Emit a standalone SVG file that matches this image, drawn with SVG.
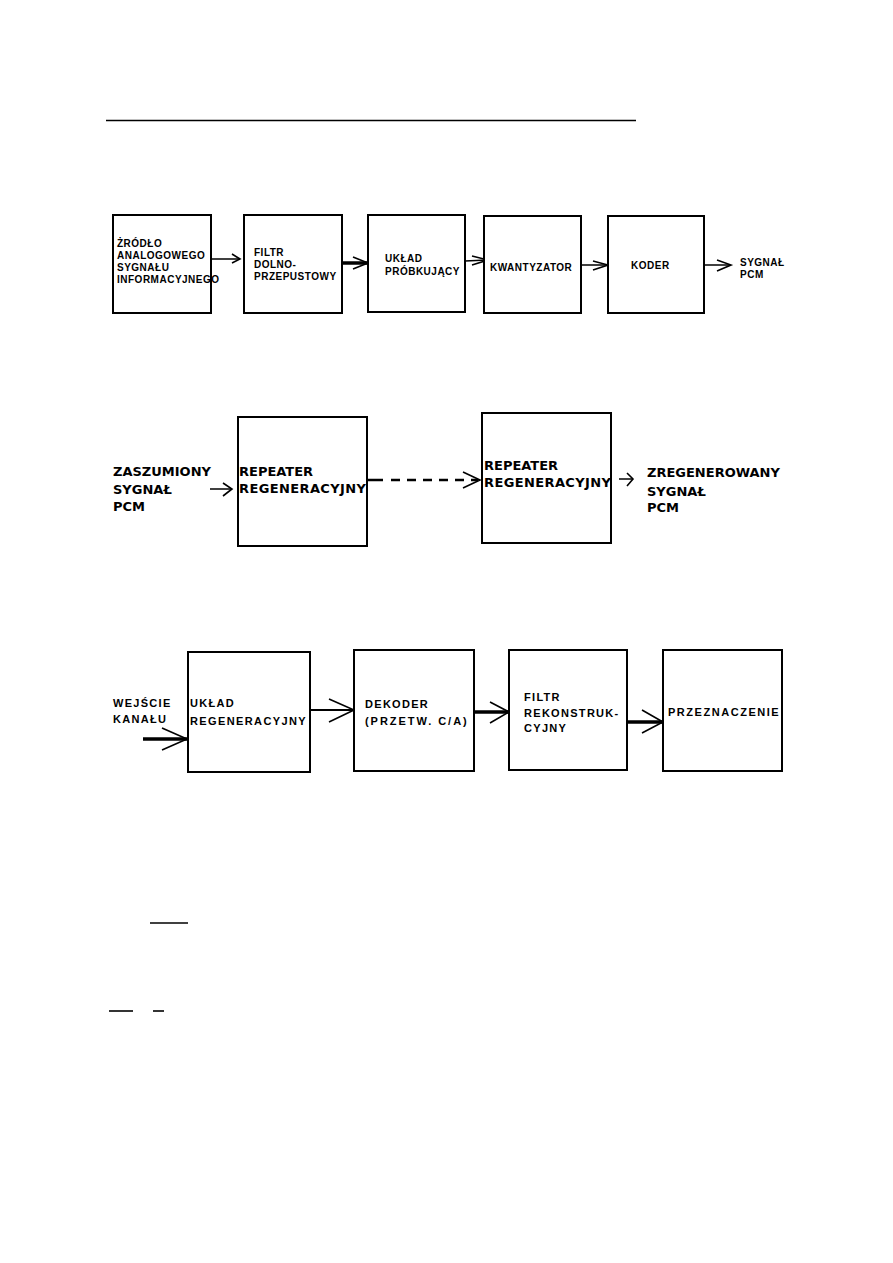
<svg xmlns="http://www.w3.org/2000/svg" width="893" height="1263" viewBox="0 0 893 1263">
<style>
.box{fill:#fff;stroke:#000;stroke-width:2}
.t1{font-family:"Liberation Sans",Arial,sans-serif;font-weight:bold;font-size:10px;letter-spacing:0.5px;fill:#000}
.t2{font-family:"DejaVu Sans",sans-serif;font-weight:bold;font-size:13px;fill:#000}
.t3{font-family:"Liberation Sans",Arial,sans-serif;font-weight:bold;font-size:11px;letter-spacing:1.3px;fill:#000}
.ln{fill:none;stroke:#000;stroke-width:1.5}
.th{fill:none;stroke:#000;stroke-width:3.5}
.hd{fill:none;stroke:#000;stroke-width:1.6}
</style>
<rect width="893" height="1263" fill="#fff"/>
<line x1="106" y1="120.5" x2="636" y2="120.5" stroke="#000" stroke-width="1.6"/>
<line x1="150" y1="923" x2="188" y2="923" stroke="#000" stroke-width="1.6"/>
<line x1="109" y1="1011" x2="133" y2="1011" stroke="#000" stroke-width="1.6"/>
<line x1="153" y1="1011" x2="164" y2="1011" stroke="#000" stroke-width="1.6"/>

<g id="connectors">
<line class="ln" x1="212" y1="259" x2="240" y2="259"/>
<polyline class="hd" points="232,254 240,259 232,263"/>
<line class="th" x1="342" y1="263" x2="367" y2="263"/>
<polyline class="hd" points="353,257 368,263 353,269"/>
<line class="ln" x1="465" y1="261" x2="487" y2="260"/>
<polyline class="hd" points="472,256 488,260 472,265"/>
<line class="ln" x1="581" y1="265" x2="608" y2="265"/>
<polyline class="hd" points="593,261 608,265 593,270"/>
<line class="ln" x1="704" y1="265" x2="730" y2="265"/>
<polyline class="hd" points="717,260 731,265 717,271"/>

<line class="ln" x1="210" y1="489" x2="232" y2="489"/>
<polyline class="hd" points="223,483 232,489 223,496"/>
<line x1="367" y1="480" x2="478" y2="480" stroke="#000" stroke-width="2.5" stroke-dasharray="16 8 9 7 9 7 9 7 9 7 9 7"/>
<polyline class="hd" points="463,472 480,480 463,488"/>
<line class="ln" x1="619" y1="479" x2="633" y2="479"/>
<polyline class="hd" points="627,473 633,479 627,486"/>

<line class="th" x1="143" y1="739" x2="187" y2="739"/>
<polyline class="hd" points="162,728 187,739 162,750"/>
<line x1="310" y1="710" x2="354" y2="710" stroke="#000" stroke-width="2"/>
<polyline class="hd" points="329,699 354,710 329,722"/>
<line class="th" x1="474" y1="712" x2="509" y2="712"/>
<polyline class="hd" points="490,702 509,712 490,723"/>
<line class="th" x1="622" y1="722" x2="663" y2="722" stroke-width="4"/>
<polyline class="hd" points="642,710 663,722 642,733"/>
</g>

<g id="src">
<rect class="box" x="113" y="215" width="98" height="98"/>
<text class="t1" x="117" y="247">ŻRÓDŁO</text>
<text class="t1" x="117" y="259">ANALOGOWEGO</text>
<text class="t1" x="117" y="271">SYGNAŁU</text>
<text class="t1" x="117" y="283">INFORMACYJNEGO</text>
</g>
<g id="filtr">
<rect class="box" x="244" y="215" width="98" height="98"/>
<text class="t1" x="254" y="256">FILTR</text>
<text class="t1" x="254" y="268">DOLNO-</text>
<text class="t1" x="254" y="280">PRZEPUSTOWY</text>
</g>
<g id="probkujacy">
<rect class="box" x="368" y="215" width="97" height="97"/>
<text class="t1" x="385" y="262">UKŁAD</text>
<text class="t1" x="385" y="275">PRÓBKUJĄCY</text>
</g>
<g id="kwantyzator">
<rect class="box" x="484" y="216" width="97" height="97"/>
<text class="t1" x="490" y="271">KWANTYZATOR</text>
</g>
<g id="koder">
<rect class="box" x="608" y="216" width="96" height="97"/>
<text class="t1" x="631" y="269">KODER</text>
</g>
<g id="pcm-out">
<text class="t1" x="740" y="266">SYGNAŁ</text>
<text class="t1" x="740" y="278">PCM</text>
</g>

<g id="noisy-in">
<text class="t2" x="113" y="476">ZASZUMIONY</text>
<text class="t2" x="113" y="494">SYGNAŁ</text>
<text class="t2" x="113" y="511">PCM</text>
</g>
<g id="repeater1">
<rect class="box" x="238" y="417" width="129" height="129"/>
<text class="t2" x="239" y="476">REPEATER</text>
<text class="t2" x="239" y="493" textLength="127" lengthAdjust="spacing">REGENERACYJNY</text>
</g>
<g id="repeater2">
<rect class="box" x="482" y="413" width="129" height="130"/>
<text class="t2" x="484" y="470">REPEATER</text>
<text class="t2" x="484" y="487" textLength="127" lengthAdjust="spacing">REGENERACYJNY</text>
</g>
<g id="regen-out">
<text class="t2" x="647" y="477">ZREGENEROWANY</text>
<text class="t2" x="647" y="496">SYGNAŁ</text>
<text class="t2" x="647" y="512">PCM</text>
</g>

<g id="channel-in">
<text class="t3" x="113" y="707">WEJŚCIE</text>
<text class="t3" x="113" y="723">KANAŁU</text>
</g>
<g id="uklad-reg">
<rect class="box" x="188" y="652" width="122" height="120"/>
<text class="t3" x="190" y="707">UKŁAD</text>
<text class="t3" x="190" y="725" textLength="117" lengthAdjust="spacing">REGENERACYJNY</text>
</g>
<g id="dekoder">
<rect class="box" x="354" y="650" width="120" height="121"/>
<text class="t3" x="365" y="708">DEKODER</text>
<text class="t3" x="365" y="725" textLength="103" lengthAdjust="spacing">(PRZETW. C/A)</text>
</g>
<g id="filtr-rek">
<rect class="box" x="509" y="650" width="118" height="120"/>
<text class="t3" x="524" y="701">FILTR</text>
<text class="t3" x="524" y="717">REKONSTRUK-</text>
<text class="t3" x="524" y="732">CYJNY</text>
</g>
<g id="przeznaczenie">
<rect class="box" x="663" y="650" width="119" height="121"/>
<text class="t3" x="668" y="716" textLength="112" lengthAdjust="spacing">PRZEZNACZENIE</text>
</g>
</svg>
